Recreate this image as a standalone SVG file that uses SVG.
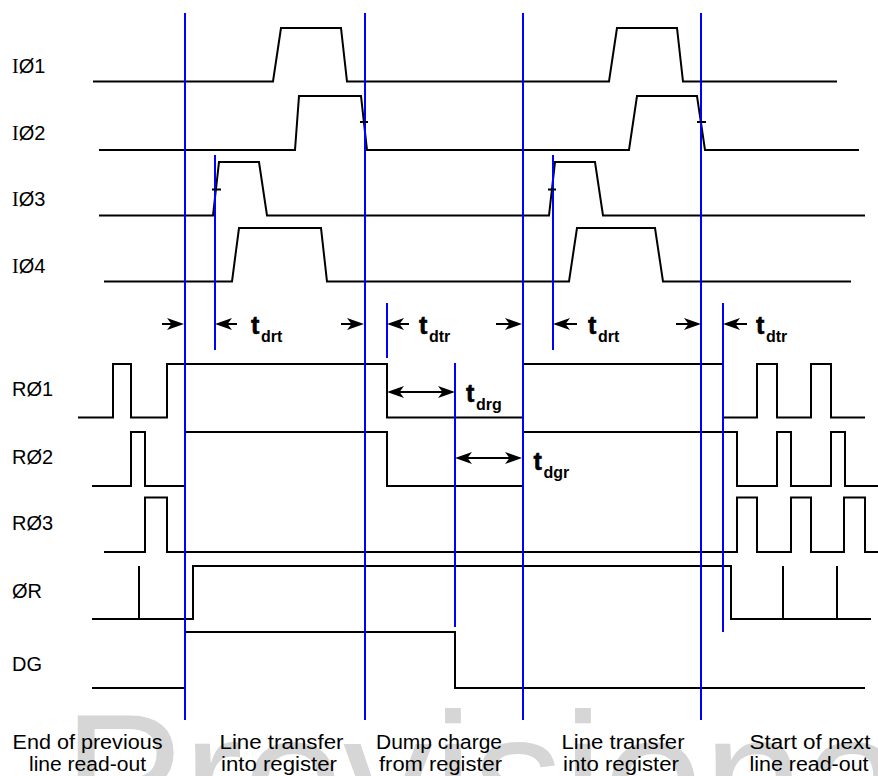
<svg xmlns="http://www.w3.org/2000/svg" width="878" height="776" viewBox="0 0 878 776">
<style>
.wm{font-family:"Liberation Sans",Arial,sans-serif;font-size:180px;fill:#d6d6d6}
.sig{fill:none;stroke:#000;stroke-width:2;stroke-linejoin:miter}
.tick{fill:none;stroke:#000;stroke-width:2}
.blue{stroke:#0000ff;stroke-width:2}
.arr{stroke:#000;stroke-width:2;fill:none}
.lbl{font-family:"Liberation Sans",Arial,sans-serif;font-size:20px;fill:#000}
.serif{font-family:"Liberation Serif","Times New Roman",serif}
.t{font-family:"Liberation Sans",Arial,sans-serif;font-weight:bold;font-size:25px;fill:#000;stroke:#000;stroke-width:0.6}
.sub{font-family:"Liberation Sans",Arial,sans-serif;font-weight:bold;font-size:16px;fill:#000}
.cap{font-family:"Liberation Sans",Arial,sans-serif;font-size:20px;fill:#000;text-anchor:middle}
</style>
<defs>
<marker id="ah" markerUnits="userSpaceOnUse" markerWidth="17" markerHeight="12" viewBox="0 0 17 12" refX="13" refY="6" orient="auto-start-reverse">
<path d="M0,0 L17,6 L0,12 L4.5,6 Z" fill="#000"/>
</marker>
</defs>
<rect width="878" height="776" fill="#fff"/>
<text class="wm" x="63" y="839">Provisional</text>

<g id="IO1"><text class="lbl" x="12" y="73"><tspan class="serif">I</tspan>Ø1</text>
<path class="sig" d="M93,81.5 H273 L281,28 H341 L347,81.5 H609 L617,28 H677 L683,81.5 H837"/></g>
<g id="IO2"><text class="lbl" x="12" y="140"><tspan class="serif">I</tspan>Ø2</text>
<path class="sig" d="M99,150 H295 L299,96 H361 L367,150 H629 L637,96 H697 L705,150 H859"/></g>
<g id="IO3"><text class="lbl" x="12" y="206"><tspan class="serif">I</tspan>Ø3</text>
<path class="sig" d="M99,215.5 H213 L219,162 H259 L267,215.5 H549 L555,162 H595 L603,215.5 H865"/></g>
<g id="IO4"><text class="lbl" x="12" y="273"><tspan class="serif">I</tspan>Ø4</text>
<path class="sig" d="M104,281.5 H232 L239,228 H321 L327,281.5 H569 L577,228 H655 L663,281.5 H851"/></g>

<g id="RO1"><text class="lbl" x="12" y="396">RØ1</text>
<path class="sig" d="M78,417.5 H113 V364 H131 V417.5 H167 V364 H387 V417.5 H523 V364 H723 V417.5 H757 V364 H777 V417.5 H811 V364 H831 V417.5 H865"/></g>
<g id="RO2"><text class="lbl" x="12" y="464">RØ2</text>
<path class="sig" d="M92,486 H131 V432 H145 V486 H185 V432 H387 V486 H523 V432 H737 V486 H777 V432 H791 V486 H831 V432 H845 V486 H878"/></g>
<g id="RO3"><text class="lbl" x="12" y="530">RØ3</text>
<path class="sig" d="M104,552 H145 V497.5 H167 V552 H737 V497.5 H757 V552 H791 V497.5 H811 V552 H844 V497.5 H865 V552 H878"/></g>
<g id="OR"><text class="lbl" x="12" y="598">ØR</text>
<path class="sig" d="M92,619 H193 V566 H731 V619 H871 M139,619 V566 M783,619 V566 M837,619 V566"/></g>
<g id="DG"><text class="lbl" x="12" y="671">DG</text>
<path class="sig" d="M92,688 H185 V632 H455 V688 H865"/></g>

<g id="markers">
<line class="blue" x1="185" y1="13" x2="185" y2="720"/>
<line class="blue" x1="365" y1="13" x2="365" y2="720"/>
<line class="blue" x1="523" y1="13" x2="523" y2="720"/>
<line class="blue" x1="701" y1="13" x2="701" y2="720"/>
<line class="blue" x1="215" y1="155" x2="215" y2="350"/>
<line class="blue" x1="553" y1="155" x2="553" y2="350"/>
<line class="blue" x1="387" y1="303" x2="387" y2="358"/>
<line class="blue" x1="723" y1="303" x2="723" y2="632"/>
<line class="blue" x1="455" y1="363" x2="455" y2="627"/>
</g>

<g id="ticks">
<path class="tick" d="M360,122 H368 M697,122 H706 M212,189.5 H221 M548,189.5 H556"/>
</g>

<g id="connectors">
<line class="arr" x1="162" y1="324" x2="180" y2="324" marker-end="url(#ah)"/>
<line class="arr" x1="237" y1="324" x2="219" y2="324" marker-end="url(#ah)"/>
<line class="arr" x1="341" y1="324" x2="360" y2="324" marker-end="url(#ah)"/>
<line class="arr" x1="409" y1="324" x2="391" y2="324" marker-end="url(#ah)"/>
<line class="arr" x1="496" y1="324" x2="518" y2="324" marker-end="url(#ah)"/>
<line class="arr" x1="577" y1="324" x2="557" y2="324" marker-end="url(#ah)"/>
<line class="arr" x1="676" y1="324" x2="697" y2="324" marker-end="url(#ah)"/>
<line class="arr" x1="747" y1="324" x2="727" y2="324" marker-end="url(#ah)"/>
<line class="arr" x1="391" y1="392" x2="451" y2="392" marker-start="url(#ah)" marker-end="url(#ah)"/>
<line class="arr" x1="459" y1="458" x2="518" y2="458" marker-start="url(#ah)" marker-end="url(#ah)"/>
</g>

<g id="timing-labels">
<text class="t" x="251" y="333.5">t</text><text class="sub" x="261" y="341.5">drt</text>
<text class="t" x="419" y="333.5">t</text><text class="sub" x="429" y="341.5">dtr</text>
<text class="t" x="588" y="333.5">t</text><text class="sub" x="598" y="341.5">drt</text>
<text class="t" x="756" y="333.5">t</text><text class="sub" x="766" y="341.5">dtr</text>
<text class="t" x="466" y="401.5">t</text><text class="sub" x="476" y="409.5">drg</text>
<text class="t" x="533.5" y="470">t</text><text class="sub" x="543.5" y="478">dgr</text>
</g>

<g id="captions">
<text class="cap" x="87.5" y="749" textLength="150" lengthAdjust="spacingAndGlyphs">End of previous</text>
<text class="cap" x="87.5" y="770.5" textLength="117" lengthAdjust="spacingAndGlyphs">line read-out</text>
<text class="cap" x="281.5" y="749" textLength="124" lengthAdjust="spacingAndGlyphs">Line transfer</text>
<text class="cap" x="279" y="770.5" textLength="116" lengthAdjust="spacingAndGlyphs">into register</text>
<text class="cap" x="439" y="749" textLength="126" lengthAdjust="spacingAndGlyphs">Dump charge</text>
<text class="cap" x="440.5" y="770.5" textLength="123" lengthAdjust="spacingAndGlyphs">from register</text>
<text class="cap" x="623" y="749" textLength="123" lengthAdjust="spacingAndGlyphs">Line transfer</text>
<text class="cap" x="621" y="770.5" textLength="116" lengthAdjust="spacingAndGlyphs">into register</text>
<text class="cap" x="810" y="749" textLength="121" lengthAdjust="spacingAndGlyphs">Start of next</text>
<text class="cap" x="809" y="770.5" textLength="119" lengthAdjust="spacingAndGlyphs">line read-out</text>
</g>
</svg>
